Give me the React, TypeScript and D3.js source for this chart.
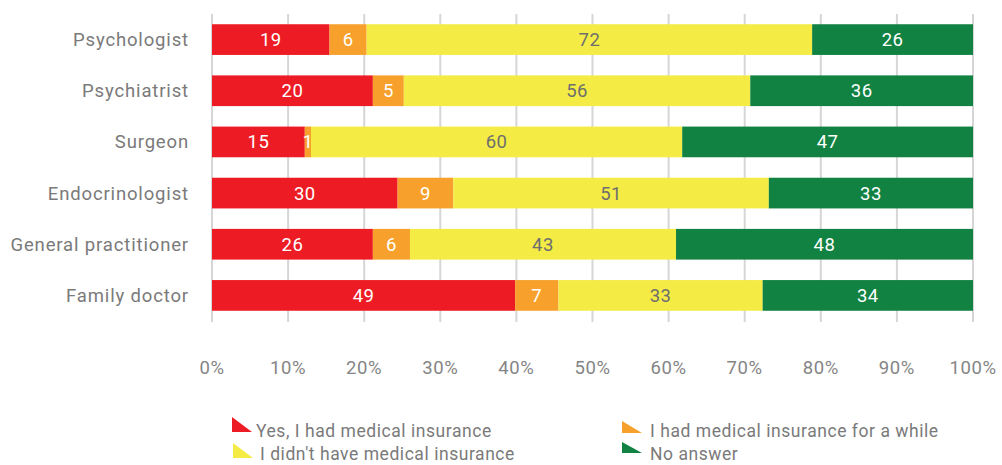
import React from "react";
import * as d3 from "d3";

const categories = ["Psychologist", "Psychiatrist", "Surgeon", "Endocrinologist", "General practitioner", "Family doctor"];
const seriesNames = ["Yes, I had medical insurance", "I had medical insurance for a while", "I didn't have medical insurance", "No answer"];
// Printed values
const yesValues = [19, 20, 15, 30, 26, 49];
const whileValues = [6, 5, 1, 9, 6, 7];
const noValues = [72, 56, 60, 51, 43, 33];
const noAnswerValues = [26, 36, 47, 33, 48, 34];
// The source draws the Psychiatrist red segment as if it were 26 (label says 20)
const yesBarValues = [19, 26, 15, 30, 26, 49];
const tickValues = [0, 10, 20, 30, 40, 50, 60, 70, 80, 90, 100];

const colors = ["#ED1C24", "#F7A12C", "#F4EC45", "#118242"];
const labelColors = ["#ffffff", "#ffffff", "#6e6e6e", "#ffffff"];
const FONT = "Roboto, 'DejaVu Sans', sans-serif";

export default function App() {
  const W = 1002, H = 465;
  const x = d3.scaleLinear().domain([0, 100]).range([212, 973]);
  const y = d3.scaleBand<string>().domain(categories).range([14, 321]).paddingInner(0.4).paddingOuter(0.2);
  const barSeries = [yesBarValues, whileValues, noValues, noAnswerValues];
  const labelSeries = [yesValues, whileValues, noValues, noAnswerValues];
  const rows = categories.map((c, i) => {
    const vals = barSeries.map((s) => s[i]);
    const total = d3.sum(vals);
    let acc = 0;
    return vals.map((v, k) => {
      const x0 = (acc / total) * 100;
      acc += v;
      const x1 = (acc / total) * 100;
      return { cat: c, v: labelSeries[k][i], k, x0, x1 };
    });
  });

  const legend = [
    { k: 0, tx: 232, ty: 417, tw: 20, th: 15, lx: 256, ly: 437 },
    { k: 1, tx: 622, ty: 421, tw: 20, th: 12, lx: 650, ly: 437 },
    { k: 2, tx: 233, ty: 443, tw: 20, th: 15, lx: 260, ly: 460 },
    { k: 3, tx: 622, ty: 442, tw: 20, th: 11, lx: 650, ly: 460 },
  ];

  return (
    <svg width={W} height={H} style={{ position: "absolute", left: 0, top: 0, background: "#fff" }} fontFamily={FONT}>
      {tickValues.map((t) => (
        <g key={t}>
          <line x1={x(t)} x2={x(t)} y1={14} y2={322} stroke="#d6d6d6" strokeWidth={2} />
          <text x={x(t)} y={374} textAnchor="middle" fontSize={18.5} fill="#858585" letterSpacing={0.6}>{t}%</text>
        </g>
      ))}
      {categories.map((c) => (
        <text key={c} x={189} y={(y(c) as number) + y.bandwidth() / 2 + 6.5} textAnchor="end" fontSize={18.5} fill="#7a7a7a" letterSpacing={0.85}>{c}</text>
      ))}
      {rows.map((segs) =>
        segs.map((s) => (
          <g key={s.cat + s.k}>
            <rect x={x(s.x0)} y={y(s.cat)} width={x(s.x1) - x(s.x0)} height={y.bandwidth()} fill={colors[s.k]} />
            <text x={(x(s.x0) + x(s.x1)) / 2} y={(y(s.cat) as number) + y.bandwidth() / 2 + 6.5} textAnchor="middle" fontSize={18.5} fill={labelColors[s.k]} letterSpacing={0.5}>{s.v}</text>
          </g>
        ))
      )}
      {legend.map((l) => (
        <g key={l.k}>
          <path d={`M${l.tx},${l.ty}L${l.tx},${l.ty + l.th}L${l.tx + l.tw},${l.ty + l.th}Z`} fill={colors[l.k]} />
          <text x={l.lx} y={l.ly} fontSize={17.5} fill="#7a7a7a" letterSpacing={0.55}>{seriesNames[l.k]}</text>
        </g>
      ))}
    </svg>
  );
}
